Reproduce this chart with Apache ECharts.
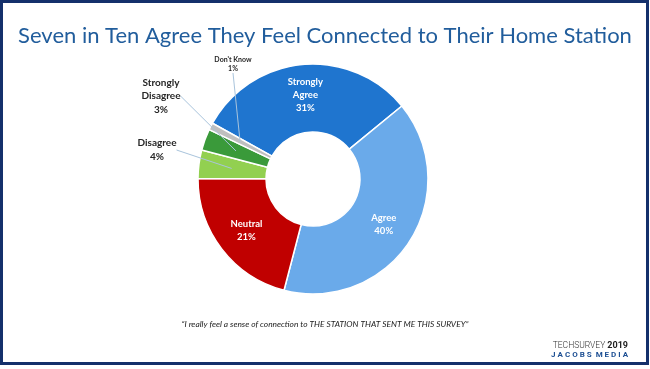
<!DOCTYPE html>
<html>
<head>
<meta charset="utf-8">
<script src="https://cdn.jsdelivr.net/npm/echarts@6/dist/echarts.min.js"></script>
<style>
html,body{margin:0;padding:0;background:#fff;}
#chart{width:650px;height:369px;}
</style>
</head>
<body>
<div id="chart"></div>
<script>
const categories = ['Strongly Agree', 'Agree', 'Neutral', 'Disagree', 'Strongly Disagree', "Don't Know"];
const labelNames = ['Strongly\nAgree', 'Agree', 'Neutral', 'Disagree', 'Strongly\nDisagree', "Don't Know"];
const values = [31, 40, 21, 4, 3, 1];
const colors = ['#1f75cf', '#6aaaea', '#c00000', '#92d050', '#3a9a3a', '#bfbfbf'];
const titleText = 'Seven in Ten Agree They Feel Connected to Their Home Station';
const captionText = '\u201cI really feel a sense of connection to THE STATION THAT SENT ME THIS SURVEY\u201d';

const chart = echarts.init(document.getElementById('chart'), null, {renderer: 'canvas'});

const insideSet = [0, 1, 2];
const outerLabelPos = {3: [157, 150], 4: [161, 96], 5: [233, 64]};

const mainData = categories.map((c, i) => ({
  name: c,
  value: values[i],
  itemStyle: {color: colors[i]},
  label: insideSet.includes(i) ? {show: true} : {show: false}
}));

const guideData = categories.map((c, i) => ({
  name: c,
  value: values[i],
  itemStyle: {color: 'rgba(0,0,0,0)'},
  label: insideSet.includes(i) ? {show: false} : {
    show: true,
    fontSize: i === 5 ? 7 : 10,
    lineHeight: i === 5 ? 9 : 13.5
  },
  labelLine: insideSet.includes(i) ? {show: false} : {show: true}
}));

const option = {
  backgroundColor: '#ffffff',
  animation: false,
  title: [
    {
      text: titleText,
      left: 'center',
      top: 20,
      textStyle: {fontFamily: 'Lato', fontSize: 22, fontWeight: 'normal', color: '#215d9c'}
    },
    {
      text: captionText,
      left: 'center',
      top: 315,
      textStyle: {fontFamily: 'Lato', fontSize: 8.4, fontStyle: 'italic', fontWeight: 'normal', color: '#222'}
    }
  ],
  graphic: [
    {
      type: 'rect',
      shape: {x: 1.5, y: 1.5, width: 646, height: 362},
      style: {fill: 'none', stroke: '#14306b', lineWidth: 3},
      silent: true
    },
    {
      type: 'text',
      right: 22,
      top: 341,
      style: {
        text: '{a|TECHSURVEY }{b|2019}',
        rich: {
          a: {fontFamily: 'Roboto', fontSize: 8.5, fontWeight: 300, fill: '#333'},
          b: {fontFamily: 'Roboto', fontSize: 9, fontWeight: 'bold', fill: '#222'}
        }
      }
    },
    {
      type: 'text',
      right: 22,
      top: 351,
      style: {
        text: 'J A C O B S  M E D I A',
        fontFamily: 'Roboto', fontSize: 8, fontWeight: 'bold', fill: '#1d4f93'
      }
    }
  ],
  series: [
    {
      type: 'pie',
      center: [313, 179],
      radius: [47, 115],
      startAngle: 151,
      clockwise: true,
      avoidLabelOverlap: false,
      silent: true,
      itemStyle: {borderColor: '#ffffff', borderWidth: 1.5},
      label: {
        position: 'inside',
        formatter: p => labelNames[p.dataIndex] + '\n' + p.value + '%',
        fontFamily: 'Lato',
        fontWeight: 'bold',
        fontSize: 9.5,
        lineHeight: 13,
        color: '#ffffff'
      },
      labelLine: {show: false},
      data: mainData
    },
    {
      type: 'pie',
      center: [313, 179],
      radius: [0, 82],
      startAngle: 151,
      clockwise: true,
      avoidLabelOverlap: false,
      silent: true,
      z: 5,
      label: {
        position: 'outside',
        formatter: p => labelNames[p.dataIndex] + '\n' + p.value + '%',
        fontFamily: 'Lato',
        fontWeight: 'bold',
        color: '#262626',
        align: 'center'
      },
      labelLine: {
        show: true,
        length: 10,
        length2: 0,
        lineStyle: {color: '#a9c4dc', width: 1}
      },
      labelLayout: function (params) {
        const pos = outerLabelPos[params.dataIndex];
        if (!pos) return {};
        return {x: pos[0], y: pos[1], align: 'center', verticalAlign: 'middle'};
      },
      data: guideData
    }
  ]
};
chart.setOption(option);
</script>
</body>
</html>
